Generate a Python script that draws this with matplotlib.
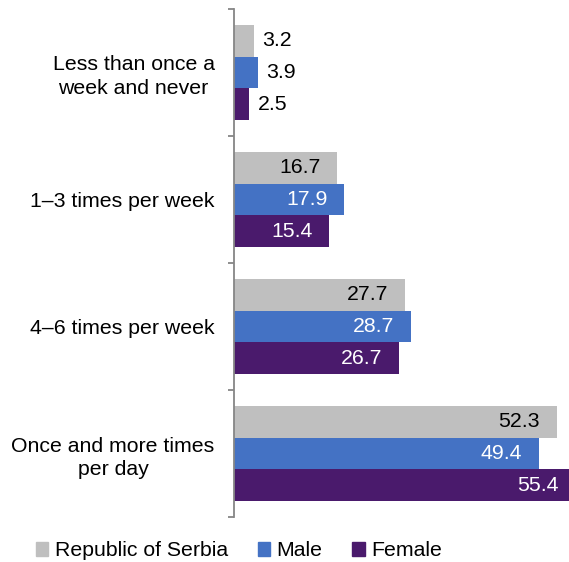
import matplotlib.pyplot as plt
from matplotlib.patches import Patch
import numpy as np

plt.rcParams['font.family'] = ['Liberation Sans', 'DejaVu Sans']

categories = ["Less than once a\nweek and never", "1\u20133 times per week",
              "4\u20136 times per week", "Once and more times\nper day"]
serbia = [3.2, 16.7, 27.7, 52.3]
male = [3.9, 17.9, 28.7, 49.4]
female = [2.5, 15.4, 26.7, 55.4]

series = [("Republic of Serbia", serbia, "#BFBFBF", "black"),
          ("Male", male, "#4472C4", "white"),
          ("Female", female, "#4A1A6C", "white")]

fig = plt.figure(figsize=(5.69, 5.62), dpi=100)
# axes run a little past the right edge, so the longest bar gets cut off
ax = fig.add_axes([234 / 569, 45 / 562, 345.5 / 569, 508 / 562])

y = np.arange(len(categories))
h = 0.25
fs = 15.3
for i, (name, vals, col, txtcol) in enumerate(series):
    pos = y + (i - 1) * h
    ax.barh(pos, vals, height=h, color=col, label=name)
    for p, v in zip(pos, vals):
        if v < 10:
            ax.annotate(f"{v:.1f}", (v, p), xytext=(6, 0), textcoords="offset points",
                        ha="left", va="center", fontsize=fs, color="black")
        else:
            ax.annotate(f"{v:.1f}", (v, p), xytext=(-12, 0), textcoords="offset points",
                        ha="right", va="center", fontsize=fs, color=txtcol)

ax.set_xlim(0, 56)
ax.set_ylim(len(categories) - 0.5, -0.5)
ax.set_yticks(y)
ax.set_yticklabels(categories, fontsize=fs, linespacing=1.3, multialignment="center")
ax.set_yticks(np.arange(len(categories) + 1) - 0.5, minor=True)
ax.tick_params(axis="y", which="major", length=0, pad=14)
ax.tick_params(axis="y", which="minor", length=4, color="#868686", width=1.3)
ax.set_xticks([])
for s in ["top", "right", "bottom"]:
    ax.spines[s].set_visible(False)
ax.spines["left"].set_color("#868686")
ax.spines["left"].set_linewidth(1.3)

handles = [Patch(color=c, label=n) for n, _, c, _ in series]
fig.legend(handles=handles, loc="center", bbox_to_anchor=(0.42, 11 / 562),
           ncol=3, frameon=False, fontsize=fs, handlelength=0.6, handleheight=0.6,
           handletextpad=0.3, columnspacing=1.4, borderaxespad=0)

fig.savefig("out.png", dpi=100)
